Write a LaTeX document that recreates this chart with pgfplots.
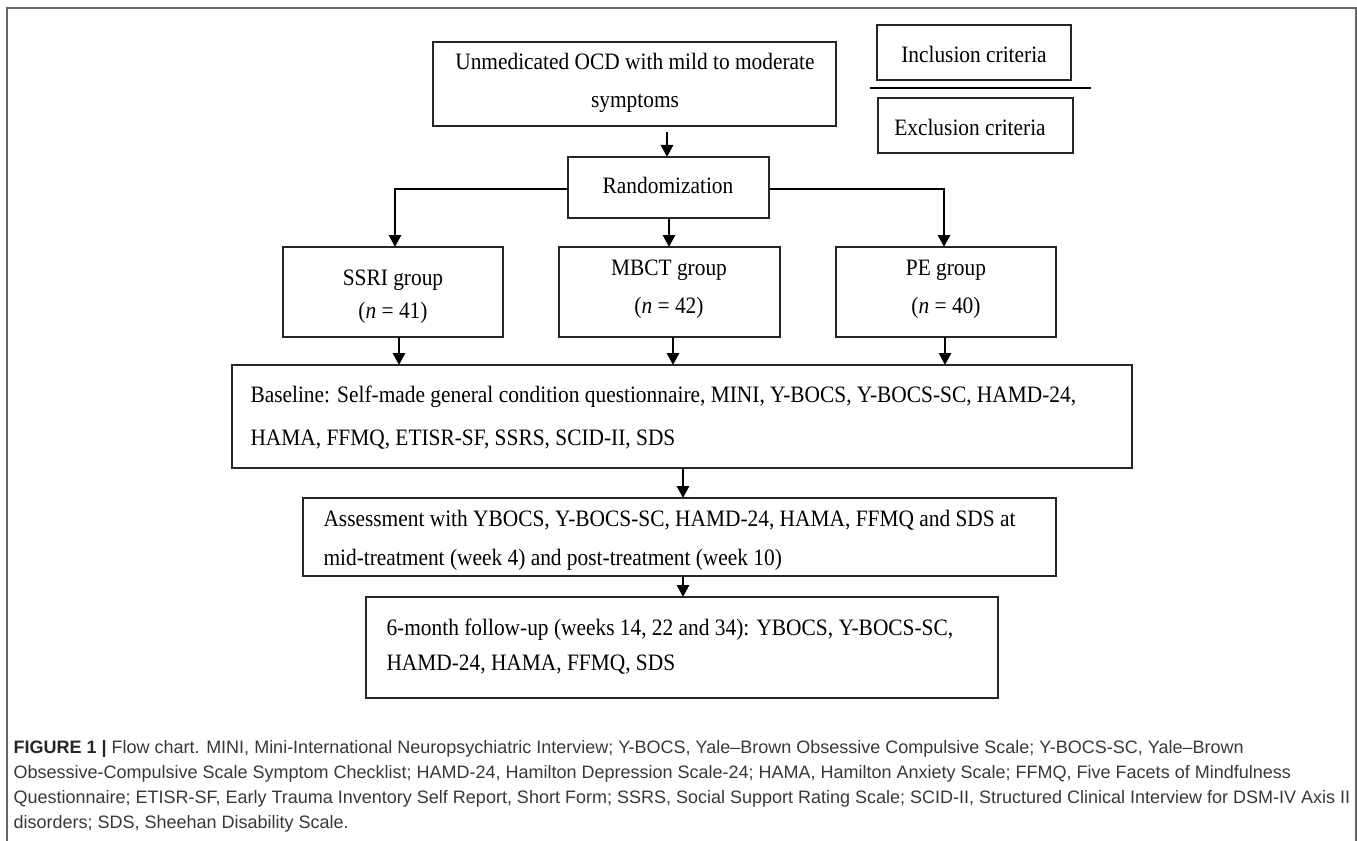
\documentclass[border=0pt]{standalone}
\usepackage{pgfplots}
\pgfplotsset{compat=1.18}
\usetikzlibrary{arrows.meta}
\usepackage{fontspec}
\setmainfont{Liberation Serif}
\newfontfamily\boxfont{Liberation Serif}[FakeStretch=0.91]
\newfontfamily\capfont{Liberation Sans}[Ligatures=TeX]
\definecolor{capgray}{HTML}{383838}
\definecolor{framegray}{HTML}{666666}
\begin{document}
\begin{tikzpicture}
\begin{axis}[at={(0,0)},anchor=south west,
  width=1357bp,height=841bp,scale only axis,
  xmin=0,xmax=1357,ymin=0,ymax=841,y dir=reverse,
  hide axis,clip=false,
  every node/.style={inner sep=0pt,outer sep=0pt},
  box/.style={black!85,line width=1.8bp,line cap=rect,line join=miter,mark=none},
  conn/.style={black,line width=2.8bp,line join=miter,mark=none,-{Triangle[length=12bp,width=12bp]}},
  ]
% outer frame
\addplot[framegray,line width=1.3bp,mark=none] coordinates {(7,841) (7,8) (1356,8) (1356,841)};
% boxes
\addplot[box] coordinates {(433,42) (836,42) (836,126) (433,126) (433,42)};
\addplot[box] coordinates {(877,25) (1071,25) (1071,80) (877,80) (877,25)};
\addplot[black,line width=2.8bp,mark=none] coordinates {(870,88) (1091,88)};
\addplot[box] coordinates {(878,98) (1073,98) (1073,153) (878,153) (878,98)};
\addplot[box] coordinates {(568,157) (769,157) (769,218) (568,218) (568,157)};
\addplot[box] coordinates {(283,247) (503,247) (503,337) (283,337) (283,247)};
\addplot[box] coordinates {(559,247) (780,247) (780,337) (559,337) (559,247)};
\addplot[box] coordinates {(836,247) (1056,247) (1056,337) (836,337) (836,247)};
\addplot[box] coordinates {(232,365) (1132,365) (1132,468) (232,468) (232,365)};
\addplot[box] coordinates {(303,498) (1056,498) (1056,576) (303,576) (303,498)};
\addplot[box] coordinates {(366,597) (998,597) (998,698) (366,698) (366,597)};
% connectors
\addplot[conn] coordinates {(667,132) (667,157)};
\addplot[conn] coordinates {(568,189) (395,189) (395,247)};
\addplot[conn] coordinates {(669,218) (669,247)};
\addplot[conn] coordinates {(769,189) (944,189) (944,247)};
\addplot[conn] coordinates {(399,337) (399,365)};
\addplot[conn] coordinates {(673,337) (673,365)};
\addplot[conn] coordinates {(945,337) (945,365)};
\addplot[conn] coordinates {(683,468) (683,498)};
\addplot[conn] coordinates {(683,576) (683,597)};
% texts
\def\bf{\boxfont\fontsize{23.5bp}{28bp}\selectfont}
\node[anchor=base] at (axis cs:635,70) {\bf Unmedicated OCD with mild to moderate};
\node[anchor=base] at (axis cs:635,108) {\bf symptoms};
\node[anchor=base] at (axis cs:974,63) {\bf Inclusion criteria};
\node[anchor=base] at (axis cs:970,136) {\bf Exclusion criteria};
\node[anchor=base] at (axis cs:668,193) {\bf Randomization};
\node[anchor=base] at (axis cs:393,285) {\bf SSRI group};
\node[anchor=base] at (axis cs:393,318) {\bf (\textit{n} = 41)};
\node[anchor=base] at (axis cs:669,275) {\bf MBCT group};
\node[anchor=base] at (axis cs:669,313) {\bf (\textit{n} = 42)};
\node[anchor=base] at (axis cs:946,275) {\bf PE group};
\node[anchor=base] at (axis cs:946,313) {\bf (\textit{n} = 40)};
\node[anchor=base west] at (axis cs:247,402) {\bf Baseline: Self-made general condition questionnaire, MINI, Y-BOCS, Y-BOCS-SC, HAMD-24,};
\node[anchor=base west] at (axis cs:247,445) {\bf HAMA, FFMQ, ETISR-SF, SSRS, SCID-II, SDS};
\node[anchor=base west] at (axis cs:320,526) {\bf Assessment with YBOCS, Y-BOCS-SC, HAMD-24, HAMA, FFMQ and SDS at};
\node[anchor=base west] at (axis cs:320,565) {\bf mid-treatment (week 4) and post-treatment (week 10)};
\node[anchor=base west] at (axis cs:383,635) {\bf 6-month follow-up (weeks 14, 22 and 34): YBOCS, Y-BOCS-SC,};
\node[anchor=base west] at (axis cs:383,670) {\bf HAMD-24, HAMA, FFMQ, SDS};
% caption
\def\cf{\capfont\fontsize{18bp}{25bp}\selectfont\color{capgray}}
\node[anchor=base west] at (axis cs:10,753) {\cf\textbf{\color{black!85}FIGURE 1 |} Flow chart. MINI, Mini-International Neuropsychiatric Interview; Y-BOCS, Yale–Brown Obsessive Compulsive Scale; Y-BOCS-SC, Yale–Brown};
\node[anchor=base west] at (axis cs:10,778) {\cf Obsessive-Compulsive Scale Symptom Checklist; HAMD-24, Hamilton Depression Scale-24; HAMA, Hamilton Anxiety Scale; FFMQ, Five Facets of Mindfulness};
\node[anchor=base west] at (axis cs:10,803) {\cf Questionnaire; ETISR-SF, Early Trauma Inventory Self Report, Short Form; SSRS, Social Support Rating Scale; SCID-II, Structured Clinical Interview for DSM-IV Axis II};
\node[anchor=base west] at (axis cs:10,828) {\cf disorders; SDS, Sheehan Disability Scale.};
\end{axis}
\pgfresetboundingbox
\path[use as bounding box] (0,0) rectangle (1357bp,841bp);
\end{tikzpicture}
\end{document}
